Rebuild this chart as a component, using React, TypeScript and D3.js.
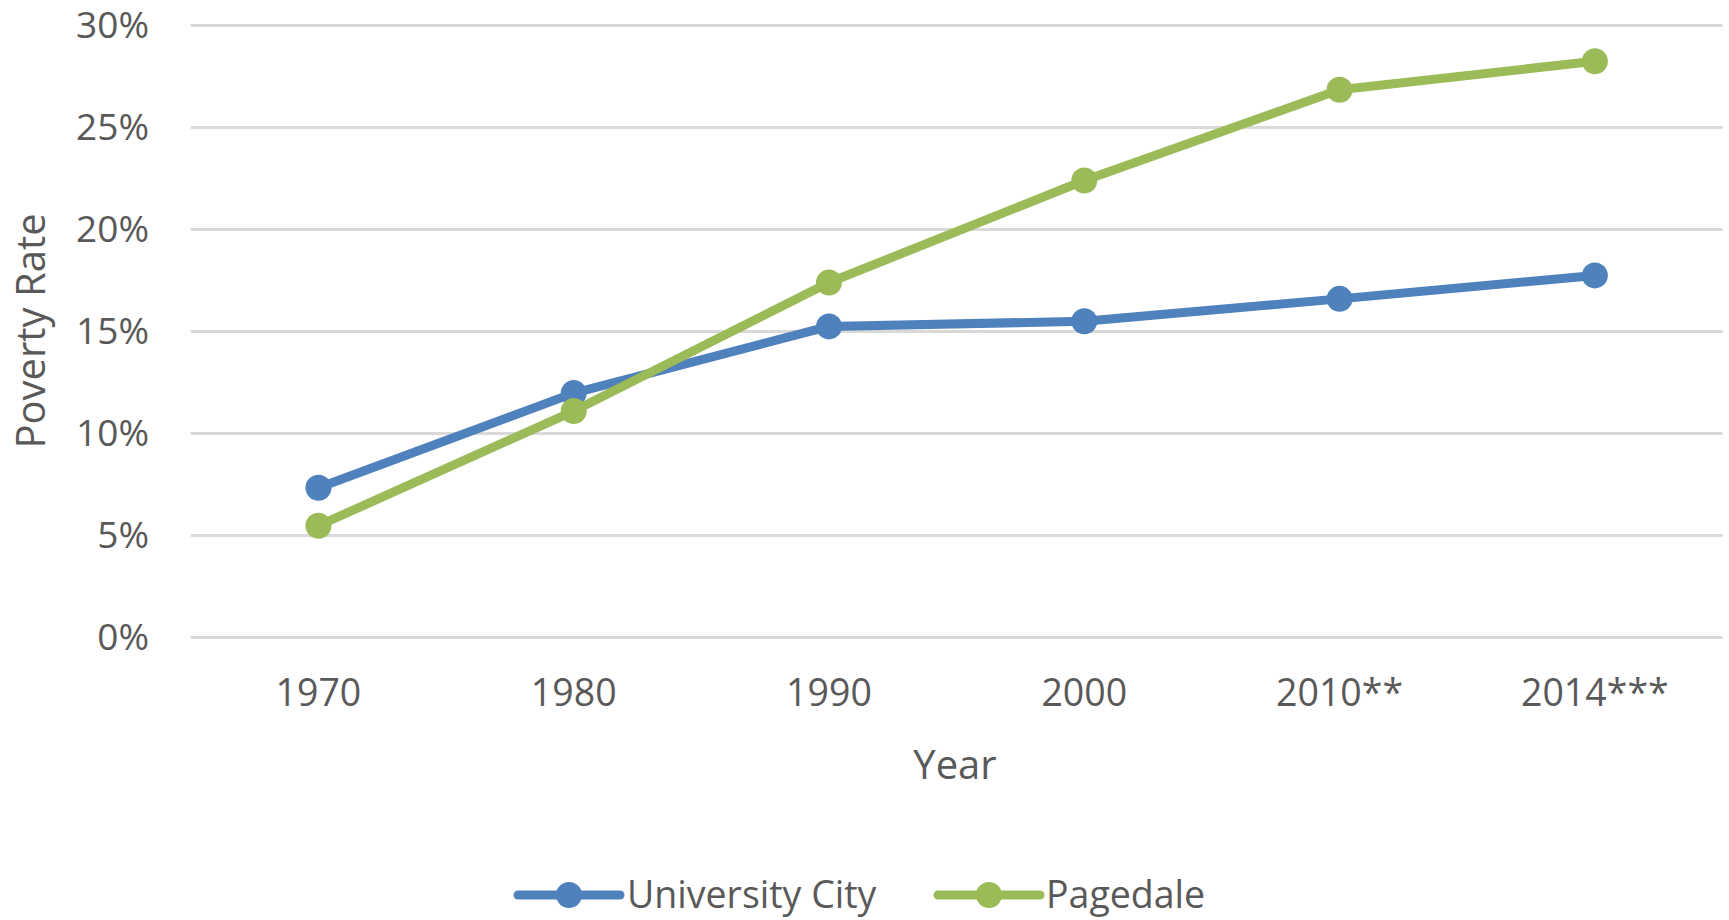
import React from "react";
import * as d3 from "d3";

const years = ["1970", "1980", "1990", "2000", "2010**", "2014***"];
const universityCity = [7.34, 11.98, 15.25, 15.5, 16.6, 17.75];
const pagedale = [5.48, 11.1, 17.4, 22.4, 26.85, 28.25];
const yTicks = [0, 5, 10, 15, 20, 25, 30];
const seriesNames = ["University City", "Pagedale"];
const seriesColors = ["#4F81BD", "#9BBB59"];

const W = 1729;
const H = 920;
const FONT = "'Open Sans', sans-serif";
const TEXT = "#595959";

export default function App() {
  const left = 190.8;
  const right = 1722.5;
  const top = 25.5;
  const bottom = 637.5;

  const x = d3.scaleBand<string>().domain(years).range([left, right]).padding(0);
  const y = d3.scaleLinear().domain([0, 30]).range([bottom, top]);
  const cx = (d: string) => (x(d) as number) + x.bandwidth() / 2;

  const line = d3
    .line<number>()
    .x((_, i) => cx(years[i]))
    .y((v) => y(v));

  const series = [universityCity, pagedale];

  const legendItems = [
    { lineX0: 518, textX: 627 },
    { lineX0: 938, textX: 1046 },
  ];
  const legendY = 895;

  return (
    <svg
      width={W}
      height={H}
      style={{ position: "absolute", left: 0, top: 0, background: "#fff" }}
    >
      {yTicks.map((t) => (
        <g key={t}>
          <line x1={left} x2={right} y1={y(t)} y2={y(t)} stroke="#D9D9D9" strokeWidth={3} />
          <text
            x={149}
            y={y(t)}
            dy="0.35em"
            textAnchor="end"
            fontFamily={FONT}
            fontSize={37}
            fill={TEXT}
          >
            {t}%
          </text>
        </g>
      ))}
      {years.map((yr) => (
        <text
          key={yr}
          x={cx(yr)}
          y={706}
          textAnchor="middle"
          fontFamily={FONT}
          fontSize={37.5}
          fill={TEXT}
        >
          {yr}
        </text>
      ))}
      <text
        x={955}
        y={779}
        textAnchor="middle"
        fontFamily={FONT}
        fontSize={40}
        fill={TEXT}
      >
        Year
      </text>
      <text
        transform={`translate(45, 331) rotate(-90)`}
        textAnchor="middle"
        fontFamily={FONT}
        fontSize={40}
        fill={TEXT}
      >
        Poverty Rate
      </text>
      {series.map((vals, si) => (
        <g key={si}>
          <path
            d={line(vals) || ""}
            fill="none"
            stroke={seriesColors[si]}
            strokeWidth={9}
            strokeLinejoin="round"
            strokeLinecap="round"
          />
          {vals.map((v, i) => (
            <circle key={i} cx={cx(years[i])} cy={y(v)} r={13} fill={seriesColors[si]} />
          ))}
        </g>
      ))}
      {legendItems.map((it, si) => (
        <g key={si}>
          <line
            x1={it.lineX0}
            x2={it.lineX0 + 102}
            y1={legendY}
            y2={legendY}
            stroke={seriesColors[si]}
            strokeWidth={9}
            strokeLinecap="round"
          />
          <circle cx={it.lineX0 + 51} cy={legendY} r={13} fill={seriesColors[si]} />
          <text
            x={it.textX}
            y={legendY}
            dy="0.35em"
            fontFamily={FONT}
            fontSize={37.5}
            fill={TEXT}
          >
            {seriesNames[si]}
          </text>
        </g>
      ))}
    </svg>
  );
}
